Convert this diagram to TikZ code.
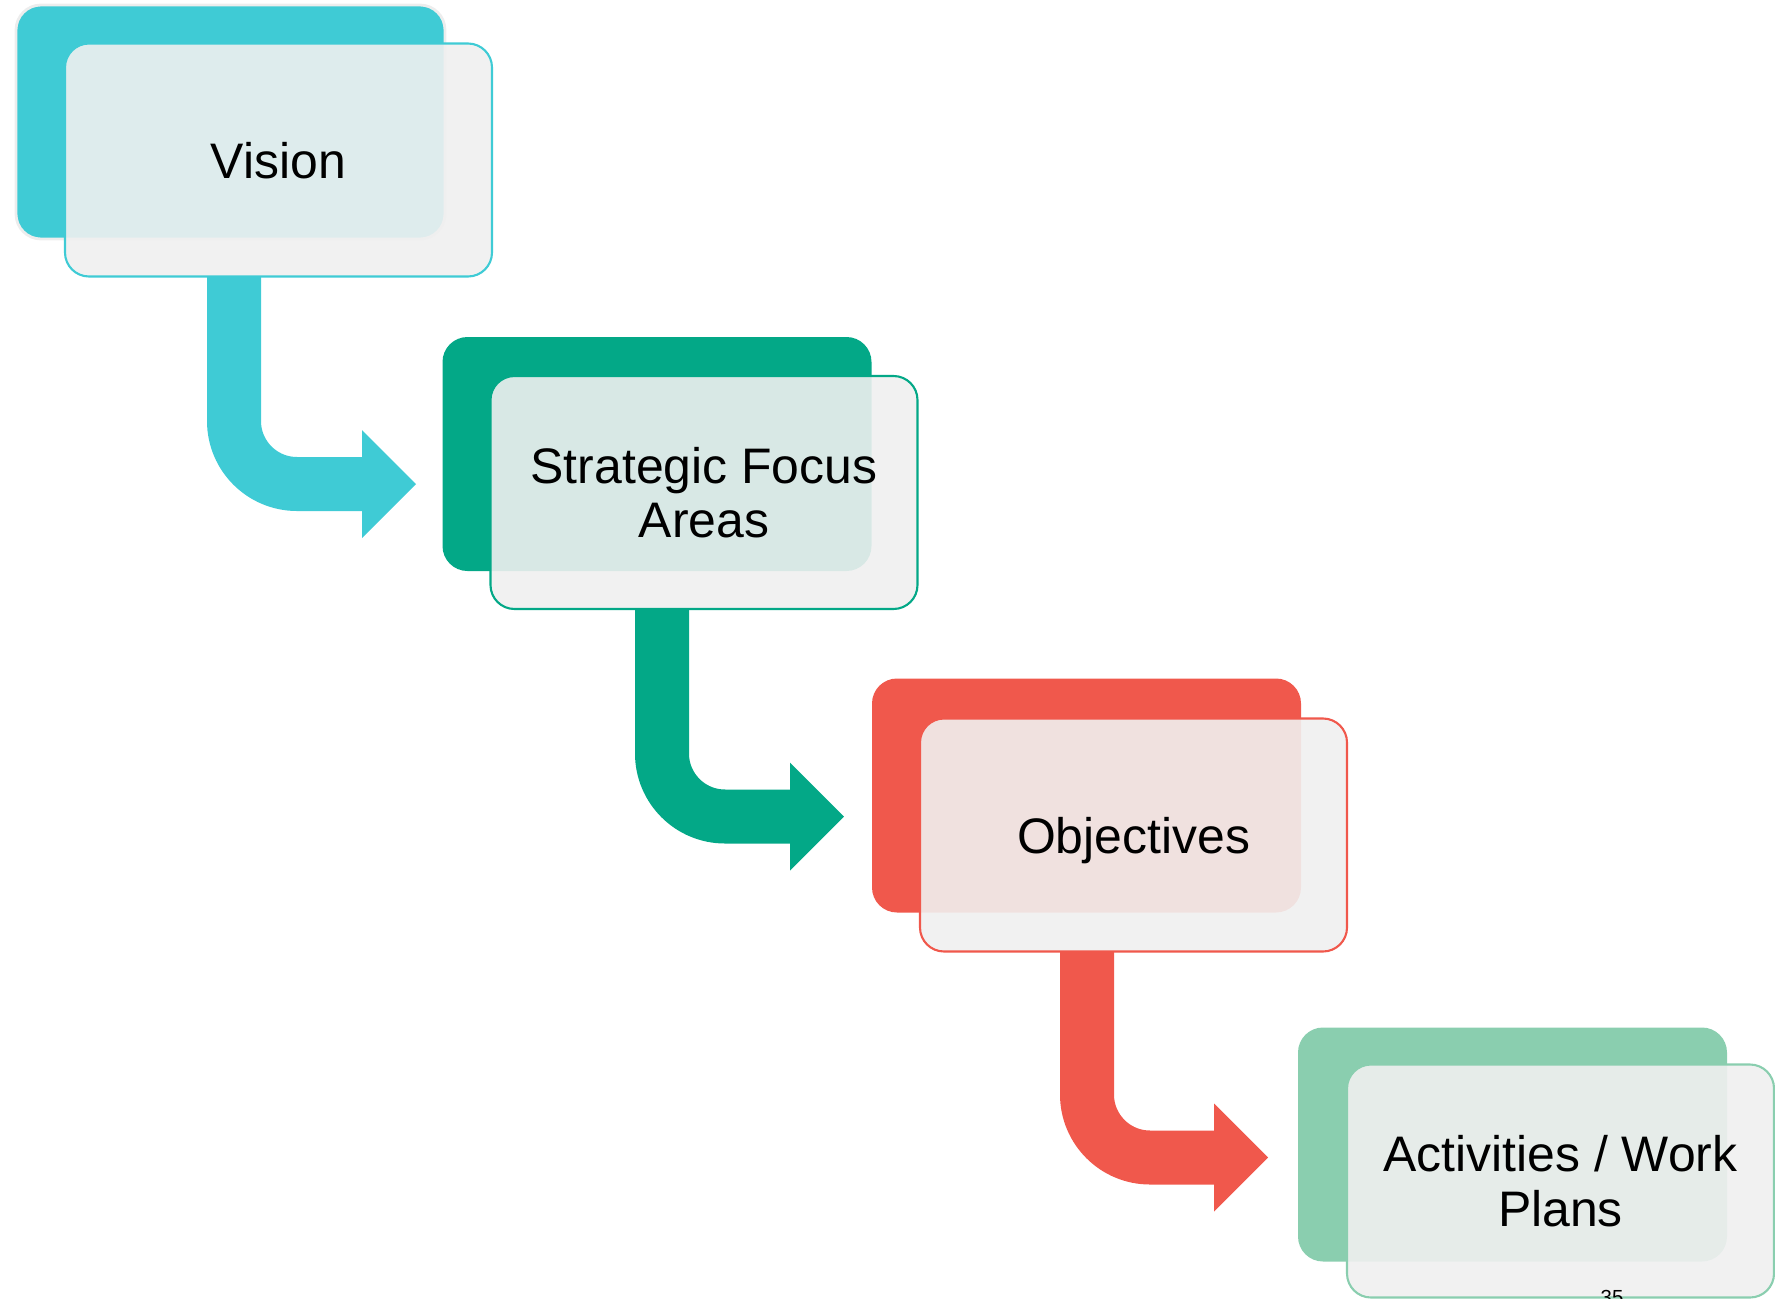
\documentclass[tikz,border=0pt]{standalone}
\usepackage{fontspec}
\setmainfont{Liberation Sans}
\definecolor{cyanbox}{HTML}{3FCBD5}
\definecolor{tealbox}{HTML}{03A887}
\definecolor{redbox}{HTML}{F0584C}
\definecolor{mintbox}{HTML}{8ACEAF}
\begin{document}
\begin{tikzpicture}[y=-1cm,
    back/.style={fill=#1, rounded corners=0.25cm, inner sep=0pt,
      minimum width=4.29cm, minimum height=2.34cm},
    front/.style={draw=#1, line width=0.6pt, fill=black!6, fill opacity=0.9,
      text opacity=1, rounded corners=0.24cm, inner sep=0pt,
      minimum width=4.27cm, minimum height=2.33cm, align=center,
      text depth=0pt, font=\fontsize{14.2}{15.5}\selectfont},
    flow/.style={draw=#1, line width=0.54cm, rounded corners=0.63cm}]
    \useasboundingbox (0,0) rectangle (17.75,12.99);
    \clip (0,0) rectangle (17.75,12.99);

    \coordinate (S1) at (2.34,2.765);
    \coordinate (H1) at (3.62,4.84);
    \coordinate (S2) at (6.62,6.09);
    \coordinate (H2) at (7.90,8.165);
    \coordinate (S3) at (10.87,9.515);
    \coordinate (H3) at (12.14,11.575);

    \node[back=cyanbox, draw=black!7, line width=0.8pt] (back1) at (2.305,1.22) {};
    \node[back=tealbox] (back2) at (6.57,4.54) {};
    \node[back=redbox] (back3) at (10.865,7.955) {};
    \node[back=mintbox] (back4) at (15.125,11.445) {};

    % shafts start on the lower edge of the front cards
    \draw[flow=cyanbox] (S1) |- ([xshift=0.1cm]H1);
    \fill[cyanbox] (H1) ++(0,-0.54) -- ++(0.54,0.54) -- ++(-0.54,0.54) -- cycle;
    \draw[flow=tealbox] (S2) |- ([xshift=0.1cm]H2);
    \fill[tealbox] (H2) ++(0,-0.54) -- ++(0.54,0.54) -- ++(-0.54,0.54) -- cycle;
    \draw[flow=redbox] (S3) |- ([xshift=0.1cm]H3);
    \fill[redbox] (H3) ++(0,-0.54) -- ++(0.54,0.54) -- ++(-0.54,0.54) -- cycle;

    \node[front=cyanbox] (front1) at (2.785,1.60) {Vision};
    \node[front=tealbox] (front2) at (7.04,4.925) {Strategic Focus\\Areas};
    \node[front=redbox] (front3) at (11.335,8.35) {Objectives};
    \node[front=mintbox] (front4) at (15.605,11.81) {Activities / Work\\Plans};

    \node[font=\fontsize{5.8}{7}\selectfont, anchor=base] (page) at (16.12,13.045) {35};
\end{tikzpicture}
\end{document}
